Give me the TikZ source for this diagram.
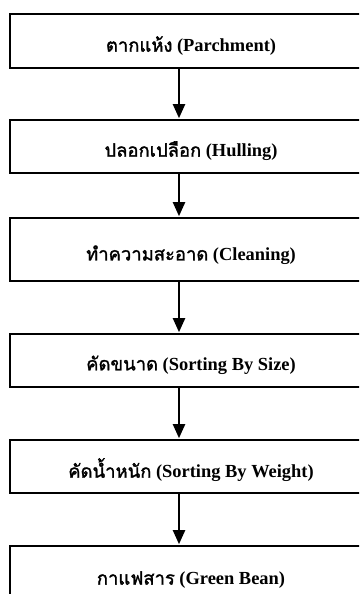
\documentclass[tikz,border=0pt]{standalone}
\usepackage{fontspec}
\setmainfont{Liberation Serif}
\newfontfamily\thaifont[Script=Thai,Scale=1.0,FakeBold=1.6]{Loma}
\usetikzlibrary{arrows.meta}
\tikzset{
  box/.style={draw=black, line width=1.6bp, rectangle, minimum width=362bp, inner sep=0pt},
  lbl/.style={font=\fontsize{18.5}{22}\selectfont\bfseries, inner sep=0pt, anchor=center},
  arr/.style={line width=2.2bp, -{Triangle[width=12bp,length=14bp]}, shorten >=1bp}
}
\newcommand{\thw}[1]{{\thaifont\mdseries #1}}
\begin{document}
\begin{tikzpicture}[x=1bp,y=-1bp]
\useasboundingbox (0,0) rectangle (359,594);
\fill[white] (0,0) rectangle (359,594);
\clip (0,0) rectangle (359,594);
\coordinate (ax) at (179,0);
\node[box, minimum height=54bp] (b1) at (191,41) {};
\node[box, minimum height=53bp] (b2) at (191,146.5) {};
\node[box, minimum height=63bp] (b3) at (191,249.5) {};
\node[box, minimum height=53bp] (b4) at (191,360.5) {};
\node[box, minimum height=53bp] (b5) at (191,466.5) {};
\node[box, minimum height=60bp] (b6) at (191,576) {};
\node[lbl] (t1) at (191,46) {\thw{ตากแห้ง} (Parchment)};
\node[lbl] (t2) at (191,151) {\thw{ปลอกเปลือก} (Hulling)};
\node[lbl] (t3) at (191,255) {\thw{ทำความสะอาด} (Cleaning)};
\node[lbl] (t4) at (191,365) {\thw{คัดขนาด} (Sorting By Size)};
\node[lbl] (t5) at (191,470) {\thw{คัดน้ำหนัก} (Sorting By Weight)};
\node[lbl] (t6) at (191,580) {\thw{กาแฟสาร} (Green Bean)};
\draw[arr] (b1.south -| ax) -- (b2.north -| ax);
\draw[arr] (b2.south -| ax) -- (b3.north -| ax);
\draw[arr] (b3.south -| ax) -- (b4.north -| ax);
\draw[arr] (b4.south -| ax) -- (b5.north -| ax);
\draw[arr] (b5.south -| ax) -- (b6.north -| ax);
\end{tikzpicture}
\end{document}
